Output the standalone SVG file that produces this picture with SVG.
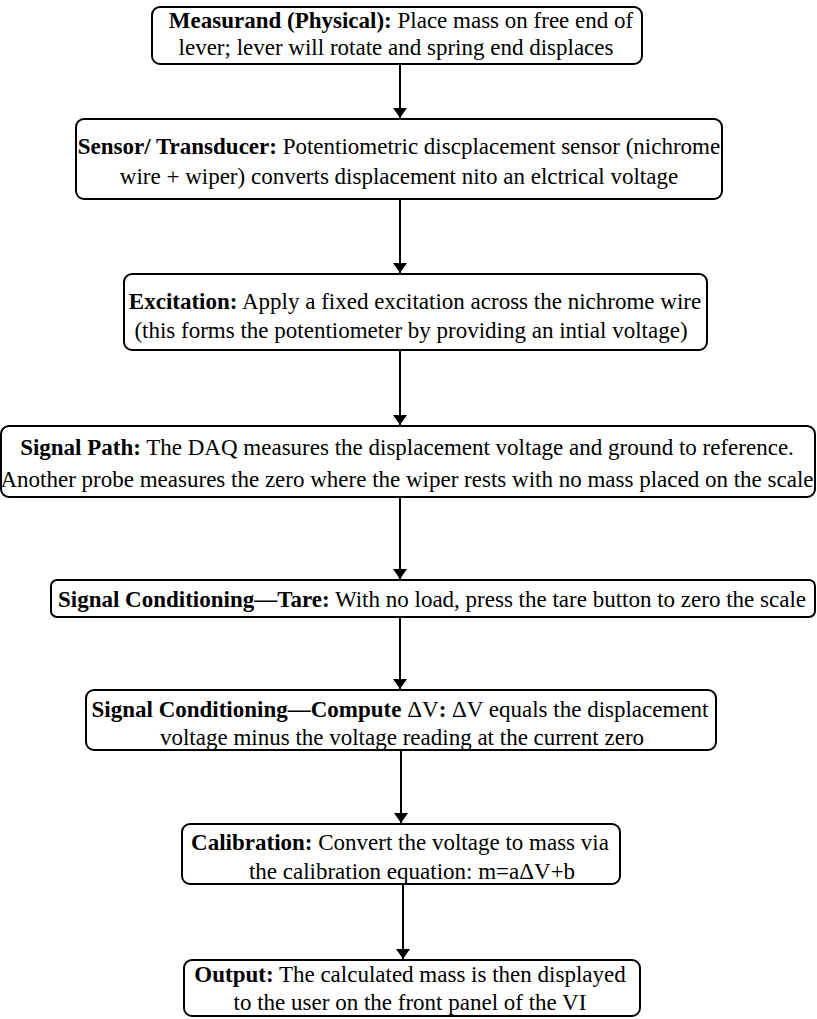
<svg xmlns="http://www.w3.org/2000/svg" width="817" height="1019" viewBox="0 0 817 1019">
<defs>
<style>
.box{fill:#fff;stroke:#000;stroke-width:2}
.t{font-family:"Liberation Serif","Times New Roman",serif;font-size:23px;fill:#000;text-anchor:middle}
.b{font-weight:bold}
.c{stroke:#000;stroke-width:2;fill:none;marker-end:url(#ah)}
</style>
<marker id="ah" viewBox="0 0 10 14" refX="10" refY="7" markerWidth="10" markerHeight="14" markerUnits="userSpaceOnUse" orient="auto">
<path d="M0,0 L10,7 L0,14 Z" fill="#000"/>
</marker>
</defs>
<rect width="817" height="1019" fill="#fff"/>
<g id="connectors">
<line class="c" x1="400" y1="64" x2="400" y2="118"/>
<line class="c" x1="400" y1="199" x2="400" y2="273"/>
<line class="c" x1="400" y1="350" x2="400" y2="425"/>
<line class="c" x1="400" y1="497" x2="400" y2="579"/>
<line class="c" x1="400" y1="617" x2="400" y2="689"/>
<line class="c" x1="401" y1="750" x2="401" y2="823"/>
<line class="c" x1="403" y1="884" x2="403" y2="959"/>
</g>
<g id="n1">
<rect class="box" x="152" y="7" width="490" height="57" rx="8"/>
<text class="t" x="401" y="28"><tspan class="b">Measurand (Physical):</tspan> Place mass on free end of</text>
<text class="t" x="396" y="55">lever; lever will rotate and spring end displaces</text>
</g>
<g id="n2">
<rect class="box" x="76" y="119" width="646" height="80" rx="8"/>
<text class="t" x="399" y="154"><tspan class="b">Sensor/ Transducer:</tspan> Potentiometric discplacement sensor (nichrome</text>
<text class="t" x="399" y="184">wire + wiper) converts displacement nito an elctrical voltage</text>
</g>
<g id="n3">
<rect class="box" x="124" y="274" width="583" height="76" rx="8"/>
<text class="t" x="415" y="309"><tspan class="b">Excitation:</tspan> Apply a fixed excitation across the nichrome wire</text>
<text class="t" x="411" y="338">(this forms the potentiometer by providing an intial voltage)</text>
</g>
<g id="n4">
<rect class="box" x="1" y="426" width="814" height="71" rx="8"/>
<text class="t" x="407" y="455"><tspan class="b">Signal Path:</tspan> The DAQ measures the displacement voltage and ground to reference.</text>
<text class="t" x="407" y="487">Another probe measures the zero where the wiper rests with no mass placed on the scale</text>
</g>
<g id="n5">
<rect class="box" x="51" y="580" width="764" height="37" rx="6"/>
<text class="t" x="432" y="607"><tspan class="b">Signal Conditioning—Tare:</tspan> With no load, press the tare button to zero the scale</text>
</g>
<g id="n6">
<rect class="box" x="86" y="690" width="630" height="60" rx="8"/>
<text class="t" x="400" y="717"><tspan class="b">Signal Conditioning—Compute </tspan>ΔV<tspan class="b">:</tspan> ΔV equals the displacement</text>
<text class="t" x="402" y="745">voltage minus the voltage reading at the current zero</text>
</g>
<g id="n7">
<rect class="box" x="182" y="824" width="438" height="60" rx="8"/>
<text class="t" x="400" y="850"><tspan class="b">Calibration:</tspan> Convert the voltage to mass via</text>
<text class="t" x="412" y="879">the calibration equation: m=aΔV+b</text>
</g>
<g id="n8">
<rect class="box" x="184" y="960" width="456" height="56" rx="8"/>
<text class="t" x="410" y="982"><tspan class="b">Output:</tspan> The calculated mass is then displayed</text>
<text class="t" x="410" y="1010">to the user on the front panel of the VI</text>
</g>
</svg>
